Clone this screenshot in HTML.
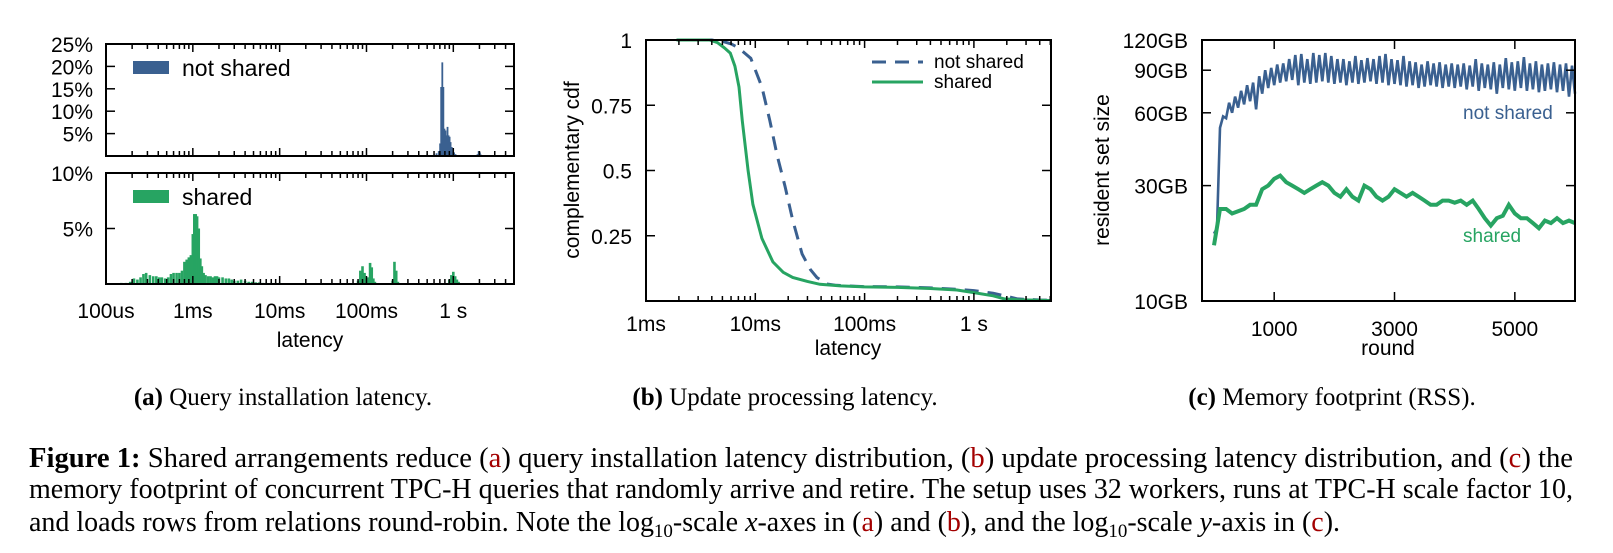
<!DOCTYPE html>
<html><head><meta charset="utf-8">
<style>
html,body{margin:0;padding:0;background:#fff;}
#root{position:relative;width:1613px;height:553px;overflow:hidden;}
svg{position:absolute;left:0;top:0;}
</style></head>
<body>
<div id="root">
<svg id="chart" width="1613" height="553" font-family="Liberation Sans, sans-serif">
<g font-family="Liberation Serif, serif" font-size="28" fill="#000">
<text x="29" y="467" textLength="1544" lengthAdjust="spacingAndGlyphs"><tspan font-weight="bold">Figure 1:</tspan>  Shared arrangements reduce (<tspan fill="#a30000">a</tspan>) query installation latency distribution, (<tspan fill="#a30000">b</tspan>) update processing latency distribution, and (<tspan fill="#a30000">c</tspan>) the</text>
<text x="29" y="498" textLength="1544" lengthAdjust="spacingAndGlyphs">memory footprint of concurrent TPC-H queries that randomly arrive and retire. The setup uses 32 workers, runs at TPC-H scale factor 10,</text>
<text x="29" y="531" textLength="1311" lengthAdjust="spacingAndGlyphs">and loads rows from relations round-robin. Note the log<tspan font-size="19" dy="6">10</tspan><tspan dy="-6">-scale </tspan><tspan font-style="italic">x</tspan>-axes in (<tspan fill="#a30000">a</tspan>) and (<tspan fill="#a30000">b</tspan>), and the log<tspan font-size="19" dy="6">10</tspan><tspan dy="-6">-scale </tspan><tspan font-style="italic">y</tspan>-axis in (<tspan fill="#a30000">c</tspan>).</text>
</g>
</svg>
</div>
<script>
// ---- Panel A data (latency in ms, percent) ----
const notSharedHistMs = [0.9,1.0,1.1,300,350,400,450,500,550,600,640,680,705,725,747,768,790,812,835,858,882,906,930,960,990,1020,1060,1100,1900,1960,2020,2080];
const notSharedHistPct = [0.1,0.15,0.1,0.1,0.15,0.2,0.2,0.3,0.2,0.3,0.6,1.1,2.8,15.4,20.9,15.4,6.1,5.7,4.6,6.5,4.6,4.3,3.1,2.0,1.2,0.8,0.4,0.2,0.4,1.1,0.8,0.3];
const sharedHistMs = [0.15,0.17,0.19,0.21,0.23,0.25,0.27,0.29,0.32,0.35,0.38,0.41,0.44,0.48,0.52,0.56,0.6,0.65,0.7,0.75,0.8,0.85,0.9,0.95,1.0,1.04,1.08,1.12,1.17,1.22,1.27,1.33,1.4,1.5,1.6,1.7,1.8,1.9,2.0,2.2,2.4,2.6,2.8,3.0,3.3,3.6,4.0,4.4,4.8,5.3,5.8,6.4,7,8,9,10,12,14,17,80,85,90,95,100,105,110,115,120,125,200,210,220,230,900,950,1000,1050,1100,1150];
const sharedHistPct = [0.1,0.1,0.2,0.5,0.4,0.6,0.9,1.0,0.8,0.7,0.7,0.6,0.6,0.5,0.6,0.9,1.0,1.0,1.0,1.2,2.0,2.2,2.4,2.6,4.5,6.3,6.3,6.1,5.0,2.3,1.6,1.0,0.8,0.7,0.7,0.6,0.7,0.7,0.6,0.6,0.5,0.5,0.4,0.3,0.3,0.4,0.3,0.2,0.2,0.15,0.15,0.1,0.1,0.1,0.1,0.1,0.05,0.05,0.05,0.3,1.2,1.6,1.0,0.5,0.6,1.9,1.5,0.5,0.2,0.3,2.0,1.2,0.2,0.4,0.8,1.1,0.7,0.4,0.2];
const aXTickLabels = ["100us","1ms","10ms","100ms","1 s"];
const aXTickValues = [0.1,1,10,100,1000];
const aTopYTicks = [5,10,15,20,25];
const aBotYTicks = [5,10];

// ---- Panel B data (latency ms, ccdf) ----
const ccdfNotSharedMs = [1.9,3,4,5,6,7,8,9.1,11.5,13.6,15.8,18.7,22,26.8,32,36.6,45,55,70,100,200,400,700,1000,1500,1900,2500,4000,5000];
const ccdfNotSharedVal = [1,1,1,0.995,0.985,0.97,0.95,0.93,0.82,0.69,0.56,0.44,0.31,0.18,0.12,0.09,0.065,0.06,0.058,0.055,0.054,0.05,0.045,0.04,0.03,0.02,0.008,0.004,0.003];
const ccdfSharedMs = [1.9,3,3.8,4.5,5.2,5.9,6.5,7.1,7.6,8.6,9.5,11.5,14.5,18,22,30,39,60,100,200,400,700,1000,1500,1900,2500,4000,5000];
const ccdfSharedVal = [1,1,1,0.99,0.97,0.95,0.9,0.82,0.69,0.5,0.37,0.24,0.15,0.11,0.09,0.075,0.064,0.058,0.054,0.052,0.048,0.042,0.032,0.02,0.008,0.005,0.003,0.002];
const bXTickLabels = ["1ms","10ms","100ms","1 s"];
const bXTickValues = [1,10,100,1000];
const bYTicks = [0.25,0.5,0.75,1];
const bYTickLabels = ["0.25","0.5","0.75","1"];

// ---- Panel C data (round step 100, GB) ----
const rssRounds = [0,100,200,300,400,500,600,700,800,900,1000,1100,1200,1300,1400,1500,1600,1700,1800,1900,2000,2100,2200,2300,2400,2500,2600,2700,2800,2900,3000,3100,3200,3300,3400,3500,3600,3700,3800,3900,4000,4100,4200,4300,4400,4500,4600,4700,4800,4900,5000,5100,5200,5300,5400,5500,5600,5700,5800,5900,6000];
const notSharedHi = [20,58,66,70,74,78,80,85,90,92,95,96,100,104,105,100,106,104,106,103,100,100,98,103,99,101,100,103,105,100,99,103,98,97,95,98,96,97,95,96,95,96,94,100,96,95,97,95,101,97,98,102,96,98,95,96,97,95,96,94,92];
const notSharedLo = [19,52,57,60,63,65,67,62,72,76,78,80,81,82,78,80,79,80,81,80,79,80,78,80,79,80,81,79,80,78,79,78,77,78,76,77,78,77,76,77,76,77,75,77,74,76,75,72,76,75,74,76,74,75,73,74,75,73,74,70,72];
const sharedRss = [17,24,24,23,23.5,24,25,25,29,30,32,33,31,30,29,28,29,30,31,30,28,27,29,27,26,30,29,27,26,27,29,28,27,28,27,26,25,25,26,26,25.5,26,25,26,24,22,20.5,22,22.5,25,23,22,22,21,20,21.5,21,22,21,21.5,21];
const cXTicks = [1000,3000,5000];
const cYTicks = [10,30,60,90,120];
const cYTickLabels = ["10GB","30GB","60GB","90GB","120GB"];

const NS = "http://www.w3.org/2000/svg";
const svg = document.getElementById('chart');
const BLUE = "#3a6090", GREEN = "#27a462";
const FS = 21;
function el(tag, attrs, parent){ const e=document.createElementNS(NS,tag); for(const k in attrs) e.setAttribute(k,attrs[k]); (parent||svg).appendChild(e); return e; }
function txt(s, x, y, anchor, size, parent, extra){ const t=el('text',Object.assign({x:x,y:y,'text-anchor':anchor,'font-size':size,fill:'#000'},extra||{}),parent); t.textContent=s; return t; }

// ===== Panel A =====
const gA = el('g',{});


const aL=106,aR=514;
const axA = ms => aL + (Math.log10(ms) - Math.log10(0.1)) * (aR-aL) / (Math.log10(5000)-Math.log10(0.1));
const aTopT=44, aTopB=156, aBotT=173, aBotB=284;
const yTop = p => aTopB - p/25*(aTopB-aTopT);
const yBot = p => aBotB - p/10*(aBotB-aBotT);
notSharedHistMs.forEach((m,i)=>{
  const r = el('rect',{x:axA(m)-0.9,y:yTop(notSharedHistPct[i]),width:1.8,height:aTopB-yTop(notSharedHistPct[i]),fill:BLUE},gA);
  
  
});
sharedHistMs.forEach((m,i)=>{
  const r = el('rect',{x:axA(m)-1.3,y:yBot(sharedHistPct[i]),width:2.6,height:aBotB-yBot(sharedHistPct[i]),fill:GREEN},gA);
  
  
});
[[aTopT,aTopB],[aBotT,aBotB]].forEach(([t,b],pi)=>{
  const fr = el('rect',{x:aL,y:t,width:aR-aL,height:b-t,fill:'none',stroke:'#000','stroke-width':2},gA);
  
  
  for(let d=-1; d<=3; d++){
    for(let k=1;k<=9;k++){
      const v=Math.pow(10,d)*k; if(v<0.1||v>5000) continue;
      const x=axA(v), len = k===1?8:5;
      el('line',{x1:x,y1:b,x2:x,y2:b-len,stroke:'#000','stroke-width':1.5},gA);
      el('line',{x1:x,y1:t,x2:x,y2:t+len,stroke:'#000','stroke-width':1.5},gA);
    }
  }
});
aTopYTicks.forEach(p=>{ const y=yTop(p);
  el('line',{x1:aL,y1:y,x2:aL+9,y2:y,stroke:'#000','stroke-width':1.5},gA);
  el('line',{x1:aR,y1:y,x2:aR-9,y2:y,stroke:'#000','stroke-width':1.5},gA);
  const t=txt(p+'%',93,y+8,'end',FS,gA);
  
  
});
aBotYTicks.forEach(p=>{ const y=yBot(p);
  el('line',{x1:aL,y1:y,x2:aL+9,y2:y,stroke:'#000','stroke-width':1.5},gA);
  el('line',{x1:aR,y1:y,x2:aR-9,y2:y,stroke:'#000','stroke-width':1.5},gA);
  const t=txt(p+'%',93,y+8,'end',FS,gA);
  
  
});
aXTickValues.forEach((v,i)=>{ const t=txt(aXTickLabels[i],axA(v),318,'middle',FS,gA);
  
   });
let t;
t=txt('latency',310,347,'middle',FS,gA);


let lg=el('rect',{x:133,y:61,width:36,height:13,fill:BLUE},gA);


t=txt('not shared',182,76,'start',23,gA);


lg=el('rect',{x:133,y:190,width:36,height:13,fill:GREEN},gA);


t=txt('shared',182,205,'start',23,gA);



// ===== Panel B =====
const gB = el('g',{});


const bL=646,bR=1051,bT=40,bB=301;
const axB = ms => bL + Math.log10(ms) * 109.3;
const ayB = v => bB - v*(bB-bT);
function pathOf(xs,ys,fx,fy){ return xs.map((x,i)=>(i?'L':'M')+fx(x).toFixed(1)+','+fy(ys[i]).toFixed(1)).join(''); }
let p=el('path',{d:pathOf(ccdfNotSharedMs,ccdfNotSharedVal,axB,ayB),fill:'none',stroke:BLUE,'stroke-width':3,'stroke-dasharray':'14,9'},gB);


p=el('path',{d:pathOf(ccdfSharedMs,ccdfSharedVal,axB,ayB),fill:'none',stroke:GREEN,'stroke-width':3},gB);


let fr=el('rect',{x:bL,y:bT,width:bR-bL,height:bB-bT,fill:'none',stroke:'#000','stroke-width':2},gB);


for(let d=0; d<=3; d++){ for(let k=1;k<=9;k++){ const v=Math.pow(10,d)*k; const x=axB(v); if(x>bR) continue; const len=k===1?8:5;
  el('line',{x1:x,y1:bB,x2:x,y2:bB-len,stroke:'#000','stroke-width':1.5},gB);
  el('line',{x1:x,y1:bT,x2:x,y2:bT+len,stroke:'#000','stroke-width':1.5},gB);} }
bYTicks.forEach((v,i)=>{ const y=ayB(v);
  el('line',{x1:bL,y1:y,x2:bL+9,y2:y,stroke:'#000','stroke-width':1.5},gB);
  el('line',{x1:bR,y1:y,x2:bR-9,y2:y,stroke:'#000','stroke-width':1.5},gB);
  const t=txt(bYTickLabels[i],632,y+8,'end',FS,gB);
  
   });
bXTickValues.forEach((v,i)=>{ const t=txt(bXTickLabels[i],axB(v),331,'middle',FS,gB);
  
   });
t=txt('latency',848,355,'middle',FS,gB);


t=txt('complementary cdf',0,0,'middle',FS,gB,{transform:'translate(579,170) rotate(-90)'});


let ll=el('line',{x1:872,y1:62,x2:923,y2:62,stroke:BLUE,'stroke-width':3,'stroke-dasharray':'14,9'},gB);


t=txt('not shared',934,68,'start',19,gB);


ll=el('line',{x1:872,y1:82,x2:923,y2:82,stroke:GREEN,'stroke-width':3},gB);


t=txt('shared',934,88,'start',19,gB);



// ===== Panel C =====
const gC = el('g',{});


const cL=1202,cR=1575,cT=40,cB=301;
const axC = r => cL + (r+200)*(cR-cL)/6200;
const ayC = gb => cB - Math.log10(gb/10)*(cB-cT)/Math.log10(12);
let zz=[];
rssRounds.forEach((r,i)=>{ zz.push([r,notSharedLo[i]]); zz.push([r+50,notSharedHi[i]]); });
zz = zz.filter(q=>q[0]<=6000);
p=el('path',{d:zz.map((q,i)=>(i?'L':'M')+axC(q[0]).toFixed(1)+','+ayC(q[1]).toFixed(1)).join(''),fill:'none',stroke:BLUE,'stroke-width':2.6,'stroke-linejoin':'miter'},gC);


p=el('path',{d:pathOf(rssRounds,sharedRss,axC,ayC),fill:'none',stroke:GREEN,'stroke-width':4},gC);


fr=el('rect',{x:cL,y:cT,width:cR-cL,height:cB-cT,fill:'none',stroke:'#000','stroke-width':2},gC);


cXTicks.forEach(r=>{ const x=axC(r);
  el('line',{x1:x,y1:cB,x2:x,y2:cB-9,stroke:'#000','stroke-width':1.5},gC);
  el('line',{x1:x,y1:cT,x2:x,y2:cT+9,stroke:'#000','stroke-width':1.5},gC);
  const t=txt(String(r),x,336,'middle',FS,gC);
  
   });
cYTicks.forEach((g,i)=>{ const y=ayC(g);
  el('line',{x1:cL,y1:y,x2:cL+9,y2:y,stroke:'#000','stroke-width':1.5},gC);
  el('line',{x1:cR,y1:y,x2:cR-9,y2:y,stroke:'#000','stroke-width':1.5},gC);
  const t=txt(cYTickLabels[i],1188,y+8,'end',FS,gC);
  
   });
t=txt('round',1388,355,'middle',FS,gC);


t=txt('resident set size',0,0,'middle',FS,gC,{transform:'translate(1109,170) rotate(-90)'});


t=txt('not shared',1463,119,'start',19,gC,{fill:BLUE});


t=txt('shared',1463,242,'start',19,gC,{fill:GREEN});



// ===== Sub-captions =====
[['(a)',' Query installation latency.',283,'subcaption-a'],['(b)',' Update processing latency.',785,'subcaption-b'],['(c)',' Memory footprint (RSS).',1332,'subcaption-c']].forEach(s=>{
  const tt=el('text',{x:s[2],y:405,'text-anchor':'middle','font-size':25,'font-family':'Liberation Serif, serif',fill:'#000'});
  
  
  const b=el('tspan',{'font-weight':'bold'},tt); b.textContent=s[0];
  const r=el('tspan',{},tt); r.textContent=s[1];
});
</script>
</body></html>
